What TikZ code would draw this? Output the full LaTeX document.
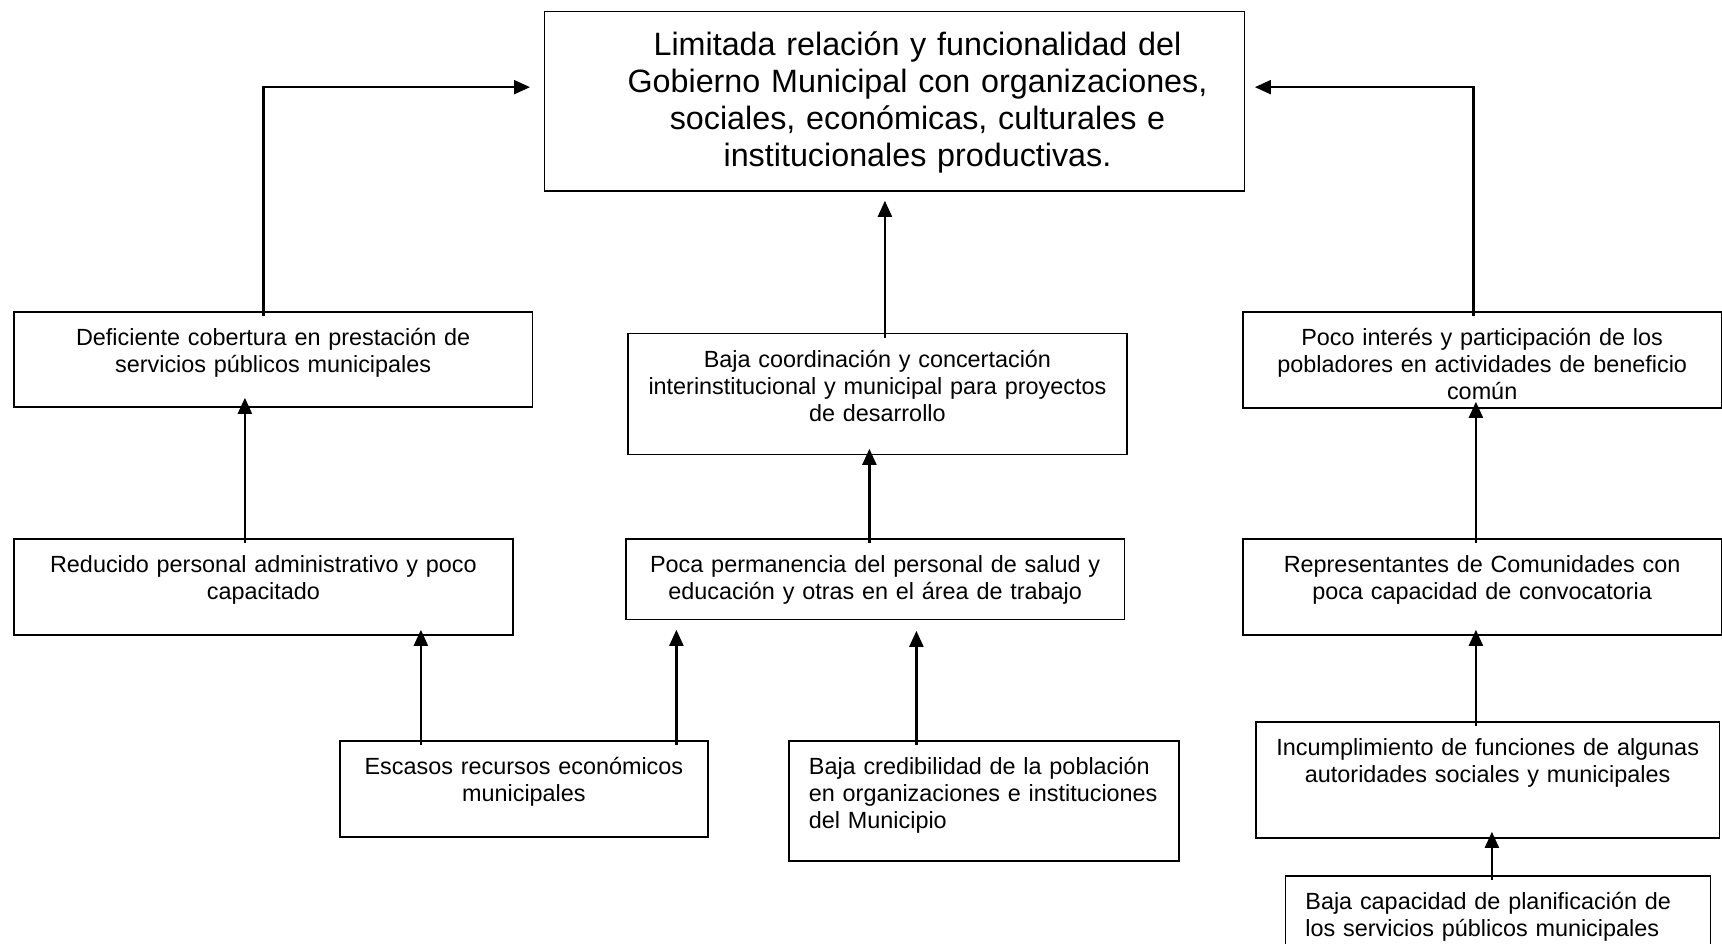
\documentclass[tikz,border=0pt]{standalone}
\usepackage{fontspec}
\setmainfont{Liberation Sans}
\usetikzlibrary{arrows.meta}

\begin{document}
\begin{tikzpicture}
        [x=1pt,y=-1pt,
         caja/.style={draw,line width=1.8pt,anchor=north west,align=center,
           inner xsep=6pt,inner ysep=0pt,text height=34pt,
           font=\fontsize{23.4}{27}\selectfont},
         cajaizq/.style={caja,align=left,inner xsep=20pt},
         flecha/.style={-{Triangle[length=16pt,width=14pt]},line width=2.2pt,shorten <=-5pt}]
        \useasboundingbox (0,0) rectangle (1722,943);

        \node [caja,text width=688pt,text height=44.5pt,text depth=135pt,
               font=\fontsize{32.3}{37}\selectfont] (1) at (543.6,10.5)
              {\leftskip=46pt plus 1fill\rightskip=0pt plus 1fill\relax%
               Limitada relación y funcionalidad del\\
               Gobierno Municipal con organizaciones,\\
               sociales, económicas, culturales e\\
               institucionales productivas.\par};
        \node [caja,text width=506.5pt,text depth=61pt] (2) at (13,311)
              {Deficiente cobertura en prestación de\\servicios públicos municipales};
        \node [caja,text width=487pt,text depth=87pt] (3) at (627,332.5)
              {Baja coordinación y concertación\\interinstitucional y municipal para proyectos\\de desarrollo};
        \node [caja,text width=466.5pt,text depth=62pt] (4) at (1242,311)
              {Poco interés y participación de los\\pobladores en actividades de beneficio\\común};
        \node [caja,text width=487pt,text depth=62pt] (5) at (13,538)
              {Reducido personal administrativo y poco\\capacitado};
        \node [caja,text width=486.5pt,text depth=46.5pt] (6) at (625,538)
              {Poca permanencia del personal de salud y\\educación y otras en el área de trabajo};
        \node [caja,text width=466.5pt,text depth=62pt] (7) at (1242,538)
              {Representantes de Comunidades con\\poca capacidad de convocatoria};
        \node [caja,text width=356pt,text depth=62pt] (8) at (339,740)
              {Escasos recursos económicos\\municipales};
        \node [cajaizq,text width=350pt,text depth=86pt] (9) at (788,740)
              {Baja credibilidad de la población\\en organizaciones e instituciones\\del Municipio};
        \node [caja,text width=451.5pt,text depth=82pt] (10) at (1255,721)
              {Incumplimiento de funciones de algunas\\autoridades sociales y municipales};
        \node [cajaizq,text width=385pt,text depth=66pt] (11) at (1284.5,875)
              {Baja capacidad de planificación de\\los servicios públicos municipales};

        \draw [flecha,shorten >=13.6pt] ([xshift=-9.75pt]2.north) |- ([yshift=14pt]1.west);
        \draw [flecha,shorten >=9.5pt] ([xshift=-8.75pt]4.north) |- ([yshift=14pt]1.east);
        \path [flecha] ([xshift=7.5pt]3.north) edge [shorten >=9pt] ([xshift=-9.6pt]1.south);

        \path [flecha] ([xshift=-18.5pt]5.north) edge [shorten >=-10pt] ([xshift=-28.25pt]2.south);
        \path [flecha] ([xshift=-5.75pt]6.north) edge [shorten >=-6.5pt] ([xshift=-8pt]3.south);
        \path [flecha] ([xshift=-6.25pt]7.north) edge [shorten >=-7pt] ([xshift=-6.25pt]4.south);

        \path [flecha] ([xshift=-103pt]8.north) edge [shorten >=-6pt] ([xshift=157.5pt]5.south);
        \path [flecha] ([xshift=152.5pt]8.north) edge [shorten >=9.5pt] ([xshift=-198.75pt]6.south);
        \path [flecha] ([xshift=-67.5pt]9.north) edge [shorten >=10.5pt] ([xshift=41.25pt]6.south);
        \path [flecha] ([xshift=-11.75pt]10.north) edge [shorten >=-6pt] ([xshift=-6.25pt]7.south);
        \path [flecha] ([xshift=-6pt]11.north) edge [shorten >=-7pt] ([xshift=4.25pt]10.south);
\end{tikzpicture}
\end{document}
